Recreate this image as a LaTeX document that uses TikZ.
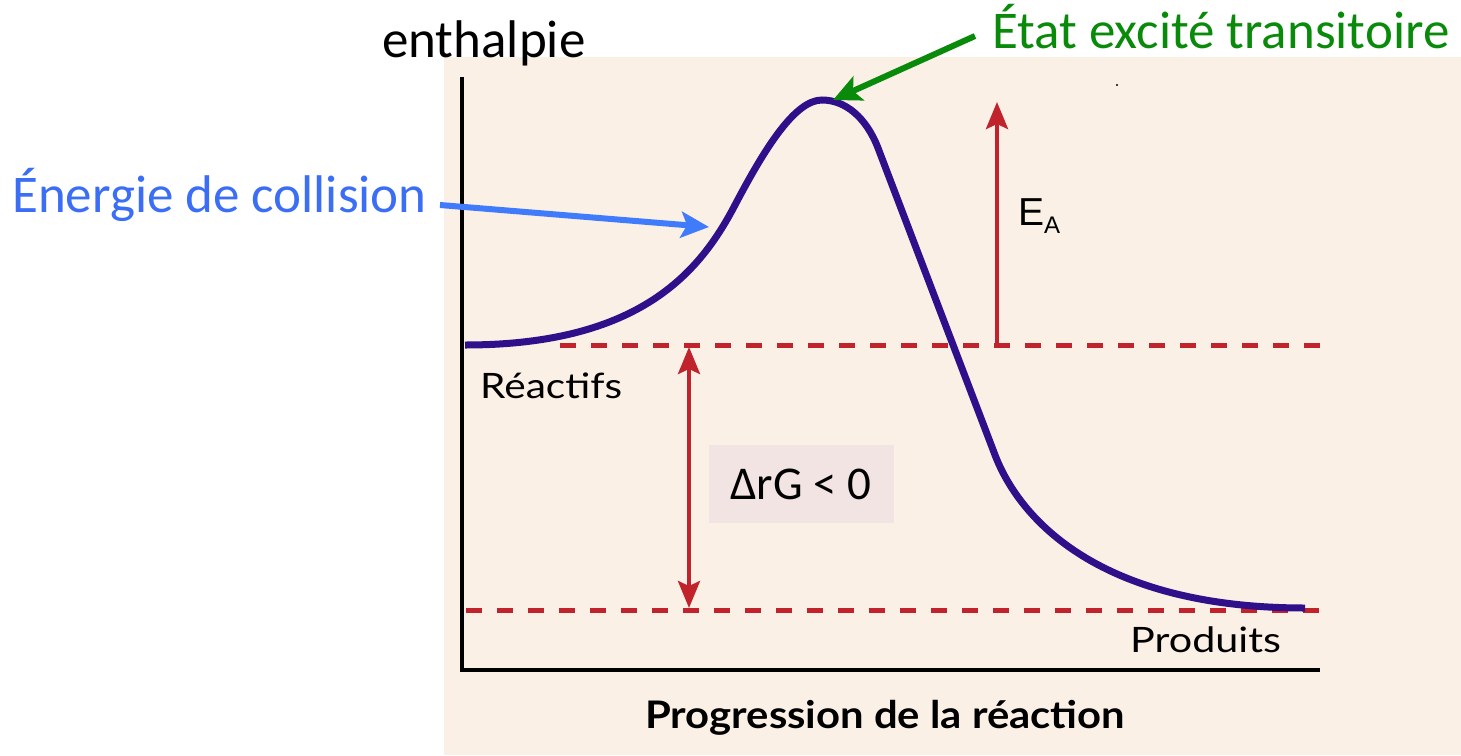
\documentclass[tikz,border=0pt]{standalone}
\usepackage{fontspec}
\setmainfont{Carlito}
\newfontfamily\lato{Lato}
\newfontfamily\arialf{Liberation Sans}
\usetikzlibrary{arrows.meta}
\definecolor{bgc}{HTML}{FAF0E6}
\definecolor{curvec}{HTML}{2F0F8A}
\definecolor{dred}{HTML}{C0232B}
\definecolor{lblue}{HTML}{3F7BFA}
\definecolor{lbluetext}{HTML}{3B6EF5}
\definecolor{dgreen}{HTML}{0A8A0A}
\definecolor{boxpink}{HTML}{F2E4E3}
\begin{document}
\begin{tikzpicture}[x=1pt,y=-1pt,
  axisl/.style={line width=4pt,black},
  dashl/.style={line width=5pt,dred,dash pattern=on 16pt off 15pt},
  redarrow/.style={line width=4pt,dred,-{Stealth[length=27pt,width=22pt,inset=5pt]}},
  redarrows/.style={line width=4pt,dred,{Stealth[length=27pt,width=22pt,inset=5pt]}-{Stealth[length=27pt,width=22pt,inset=5pt]}},
  garrow/.style={line width=6pt,dgreen,-{Stealth[length=28pt,width=26pt,inset=6pt]}},
  barrow/.style={line width=6pt,lblue,-{Stealth[length=28pt,width=26pt,inset=6pt]}},
  bigtext/.style={inner sep=0pt,anchor=base west,font=\fontsize{53}{58}\selectfont},
  labtext/.style={inner sep=0pt,anchor=base west,font=\lato\fontsize{35}{40}\selectfont},
]
\useasboundingbox (0,0) rectangle (1461,755);
\fill[bgc] (444,57) rectangle (1461,755);
\fill[black] (1117,85) circle (1.2pt);
% axes
\draw[axisl] (462,77) -- (462,670) -- (1320,670);
% dashed levels
\draw[dashl] (560,345) -- (1320,345);
\draw[dashl] (466,610) -- (1320,610);
% curve
\draw[curvec,line width=7pt] (465,345)
  .. controls (640,345) and (700,272) .. (735,205)
  .. controls (765,148) and (795,100) .. (822,100)
  .. controls (845,100) and (866,117) .. (878,148)
  -- (995,455)
  .. controls (1020,520) and (1100,608) .. (1305,608);
% EA arrow
\coordinate (eabot) at (997,345);
\coordinate (eatop) at (997,102);
\draw[redarrow] (eabot) -- (eatop);
\node[inner sep=0pt,anchor=base west,font=\arialf\fontsize{39}{44}\selectfont] (ea) at (1018,225)
  {E\raisebox{-8pt}{\fontsize{24}{28}\selectfont A}};
% Delta G arrow
\coordinate (dgtop) at (689,347);
\coordinate (dgbot) at (689,608);
\draw[redarrows] (dgtop) -- (dgbot);
\node[fill=boxpink,minimum width=185pt,minimum height=78pt,inner sep=0pt,
  font=\fontsize{47}{52}\selectfont] (dg) at (801,484) {\raisebox{-2pt}{ΔrG < 0}};
% labels
\node[labtext] (reac) at (480,398) {\scalebox{1.16}[1]{Réactifs}};
\node[labtext] (prod) at (1130,652) {\scalebox{1.18}[1]{Produits}};
\node[inner sep=0pt,anchor=base west,font=\lato\bfseries\fontsize{38}{42}\selectfont] (prog) at (645,728) {\scalebox{1.1}[1]{Progression de la réaction}};
\node[bigtext] (enth) at (382,57) {enthalpie};
\node[bigtext,text=lbluetext] (coll) at (12,212) {Énergie de collision};
\node[bigtext,text=dgreen] (etat) at (992,48) {État excité transitoire};
% pointers
\coordinate (gstart) at (975,36);
\coordinate (peak) at (833,100);
\draw[garrow] (gstart) -- (peak);
\coordinate (bstart) at (440,205);
\coordinate (slope) at (709,227);
\draw[barrow] (bstart) -- (slope);
\end{tikzpicture}
\end{document}
